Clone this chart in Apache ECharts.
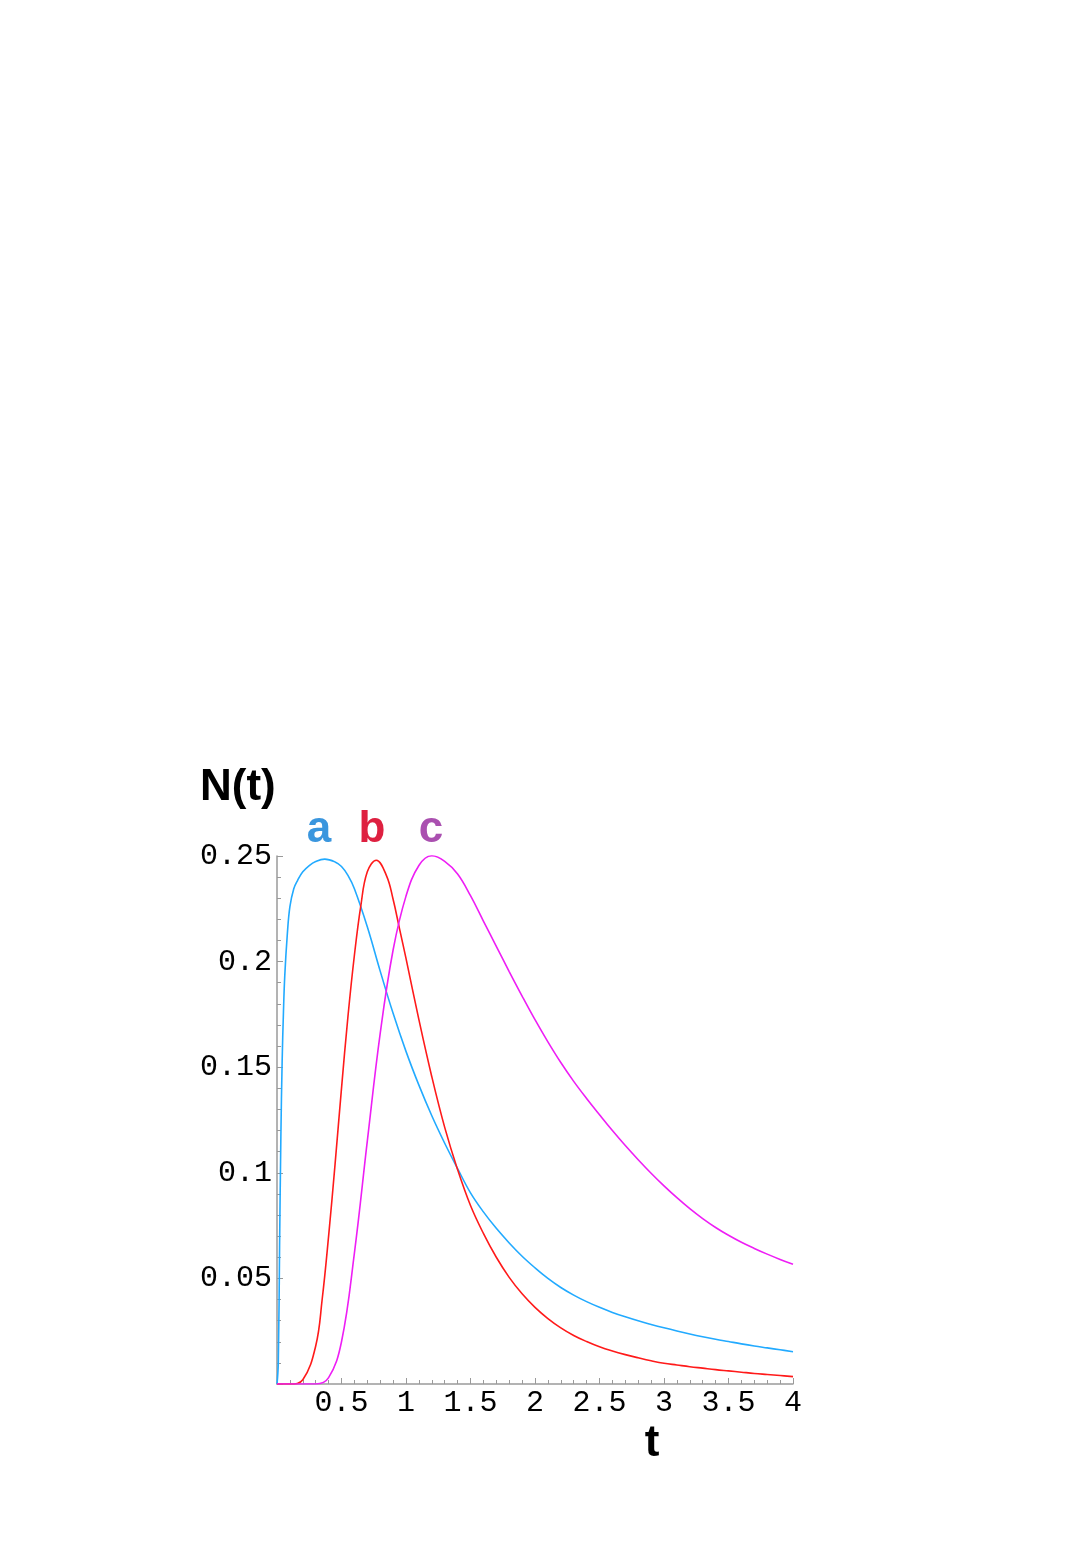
<!DOCTYPE html>
<html>
<head>
<meta charset="utf-8">
<script src="https://cdn.jsdelivr.net/npm/echarts@6/dist/echarts.min.js"></script>
<style>
html,body{margin:0;padding:0;background:#fff;}
#chart{width:1090px;height:1542px;}
</style>
</head>
<body>
<div id="chart"></div>
<script>
// ---- data ----
const tA = [0, 0.01, 0.02, 0.03, 0.04, 0.05, 0.06, 0.08, 0.1, 0.13, 0.16, 0.2, 0.25, 0.3, 0.37, 0.45, 0.5, 0.55, 0.6, 0.7, 0.8, 0.9, 1.0, 1.1, 1.2, 1.3, 1.4, 1.5, 1.6, 1.7, 1.8, 1.9, 2.0, 2.1, 2.2, 2.3, 2.4, 2.5, 2.6, 2.7, 2.8, 2.9, 3.0, 3.1, 3.2, 3.3, 3.4, 3.5, 3.6, 3.7, 3.8, 3.9, 4.0];
const nA = [0, 0.01, 0.065, 0.117, 0.153, 0.176, 0.193, 0.213, 0.226, 0.2345, 0.2385, 0.2425, 0.2455, 0.2474, 0.2485, 0.2472, 0.2450, 0.2408, 0.2345, 0.2165, 0.1955, 0.1755, 0.1575, 0.1415, 0.127, 0.114, 0.102, 0.0905, 0.0815, 0.0737, 0.0668, 0.0605, 0.0550, 0.0500, 0.0457, 0.0421, 0.0390, 0.0363, 0.0339, 0.0318, 0.0299, 0.0282, 0.0266, 0.0251, 0.0237, 0.0224, 0.0212, 0.0201, 0.0190, 0.0180, 0.0171, 0.0162, 0.0153];

const tB = [0, 0.1, 0.2, 0.3, 0.35, 0.4, 0.45, 0.5, 0.55, 0.6, 0.65, 0.7, 0.77, 0.85, 0.9, 0.95, 1.0, 1.1, 1.2, 1.3, 1.4, 1.5, 1.6, 1.7, 1.8, 1.9, 2.0, 2.1, 2.2, 2.3, 2.4, 2.5, 2.6, 2.7, 2.8, 2.9, 3.0, 3.1, 3.2, 3.3, 3.4, 3.5, 3.6, 3.7, 3.8, 3.9, 4.0];
const nB = [0, 0, 0.002, 0.018, 0.04, 0.07, 0.104, 0.14, 0.174, 0.203, 0.2265, 0.2425, 0.248, 0.2405, 0.2295, 0.2155, 0.2015, 0.1725, 0.1455, 0.1215, 0.1015, 0.0845, 0.0713, 0.0600, 0.0505, 0.0427, 0.0363, 0.0310, 0.0266, 0.0230, 0.0201, 0.0176, 0.0156, 0.0139, 0.0124, 0.0110, 0.0098, 0.0090, 0.0082, 0.0075, 0.0068, 0.0062, 0.0056, 0.0050, 0.0045, 0.0040, 0.0035];

const tC = [0, 0.1, 0.2, 0.3, 0.4, 0.5, 0.6, 0.7, 0.8, 0.9, 1.0, 1.1, 1.2, 1.3, 1.4, 1.5, 1.6, 1.7, 1.8, 1.9, 2.0, 2.1, 2.2, 2.3, 2.4, 2.5, 2.6, 2.7, 2.8, 2.9, 3.0, 3.1, 3.2, 3.3, 3.4, 3.5, 3.6, 3.7, 3.8, 3.9, 4.0];
const nC = [0, 0, 0, 0, 0.003, 0.02, 0.062, 0.115, 0.166, 0.2055, 0.231, 0.2455, 0.2501, 0.2475, 0.2415, 0.2312, 0.2192, 0.2072, 0.1953, 0.1837, 0.1725, 0.1620, 0.1522, 0.1433, 0.1352, 0.1275, 0.1200, 0.1129, 0.1062, 0.0998, 0.0938, 0.0882, 0.0830, 0.0783, 0.0741, 0.0704, 0.0671, 0.0642, 0.0615, 0.0590, 0.0567];

const xTickValues = [0, 0.5, 1, 1.5, 2, 2.5, 3, 3.5, 4];
const xTickLabels = ['', '0.5', '1', '1.5', '2', '2.5', '3', '3.5', '4'];
const yTickValues = [0, 0.05, 0.1, 0.15, 0.2, 0.25];
const yTickLabels = ['', '0.05', '0.1', '0.15', '0.2', '0.25'];

const seriesNames = ['a', 'b', 'c'];
const lineColors = ['#22AAFF', '#FF1A1A', '#EE1EF5'];
const labelColors = ['#3A96DE', '#DE2040', '#AA50B0'];

function pairs(ts, ns) { return ts.map((t, i) => [t, ns[i]]); }
function lookup(vals, labels) {
  return function (v) {
    const i = vals.findIndex(x => Math.abs(x - v) < 1e-9);
    return i >= 0 ? labels[i] : '';
  };
}

const chart = echarts.init(document.getElementById('chart'), null, {renderer: 'canvas'});
const axisGray = '#9a9a9a';
const tickFont = {fontFamily: 'Liberation Mono', fontSize: 30, color: '#000'};

function mkSeries(name, ts, ns, color) {
  return {
    name: name, type: 'line', data: pairs(ts, ns), showSymbol: false,
    smooth: 0.4,
    lineStyle: {color: color, width: 1.6}, itemStyle: {color: color},
    animation: false, clip: true
  };
}

chart.setOption({
  animation: false,
  backgroundColor: '#fff',
  grid: {left: 277, top: 856, right: 297, bottom: 158, containLabel: false},
  xAxis: {
    type: 'value', min: 0, max: 4, interval: 0.5,
    axisLine: {show: true, onZero: false, lineStyle: {color: axisGray, width: 1.5}},
    axisTick: {show: true, inside: true, length: 6, lineStyle: {color: axisGray}},
    minorTick: {show: true, splitNumber: 5, length: 4, lineStyle: {color: axisGray}},
    splitLine: {show: false},
    axisLabel: Object.assign({margin: 4, formatter: lookup(xTickValues, xTickLabels), showMaxLabel: true}, tickFont)
  },
  yAxis: {
    type: 'value', min: 0, max: 0.25, interval: 0.05,
    axisLine: {show: true, onZero: false, lineStyle: {color: axisGray, width: 1.5}},
    axisTick: {show: true, inside: true, length: 6, lineStyle: {color: axisGray}},
    minorTick: {show: true, splitNumber: 5, length: 4, lineStyle: {color: axisGray}},
    splitLine: {show: false},
    axisLabel: Object.assign({margin: 5, formatter: lookup(yTickValues, yTickLabels), showMaxLabel: true}, tickFont)
  },
  series: [
    mkSeries(seriesNames[0], tA, nA, lineColors[0]),
    mkSeries(seriesNames[1], tB, nB, lineColors[1]),
    mkSeries(seriesNames[2], tC, nC, lineColors[2])
  ],
  graphic: [
    {type: 'text', left: 200, top: 766, style: {text: 'N(t)', font: 'bold 44px "Liberation Sans", Arial, sans-serif', fill: '#000'}},
    {type: 'text', x: 319, y: 830, style: {text: seriesNames[0], font: 'bold 44px "Liberation Sans", Arial, sans-serif', fill: labelColors[0], textAlign: 'center', textVerticalAlign: 'middle'}},
    {type: 'text', x: 372, y: 830, style: {text: seriesNames[1], font: 'bold 44px "Liberation Sans", Arial, sans-serif', fill: labelColors[1], textAlign: 'center', textVerticalAlign: 'middle'}},
    {type: 'text', x: 431, y: 830, style: {text: seriesNames[2], font: 'bold 44px "Liberation Sans", Arial, sans-serif', fill: labelColors[2], textAlign: 'center', textVerticalAlign: 'middle'}},
    {type: 'text', x: 652, y: 1444, style: {text: 't', font: 'bold 44px "Liberation Sans", Arial, sans-serif', fill: '#000', textAlign: 'center', textVerticalAlign: 'middle'}}
  ]
});
</script>
</body>
</html>
